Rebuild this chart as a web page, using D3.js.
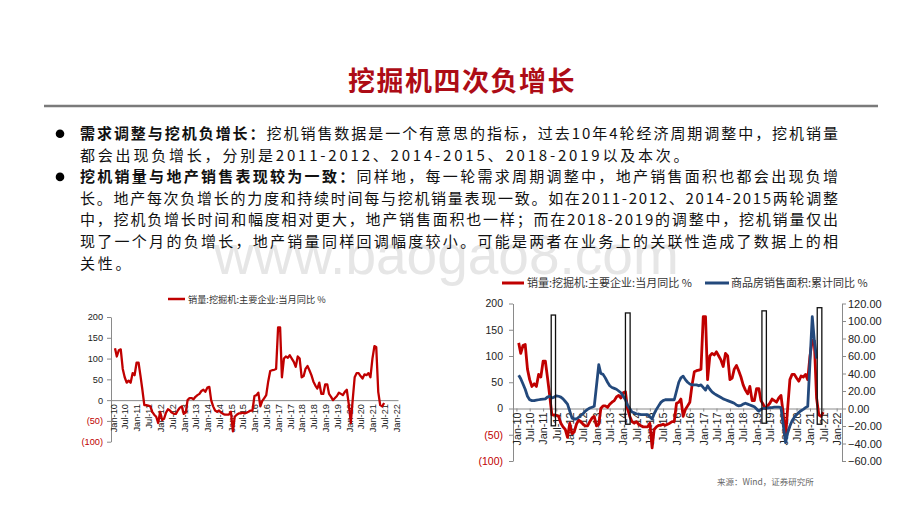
<!DOCTYPE html>
<html><head><meta charset="utf-8">
<script src="https://cdn.jsdelivr.net/npm/d3@7"></script>
<style>body{margin:0;background:#fff}svg{display:block}</style>
</head><body>
<svg id="c" width="920" height="518"></svg>
<script>
// ---------- content ----------
const title = "挖掘机四次负增长";
const watermark = "www.baogao8.com";
const bullets = [
  {lead: "需求调整与挖机负增长：", lines: [
    "挖机销售数据是一个有意思的指标，过去10年4轮经济周期调整中，挖机销量",
    "都会出现负增长，分别是2011-2012、2014-2015、2018-2019以及本次。"]},
  {lead: "挖机销量与地产销售表现较为一致：", lines: [
    "同样地，每一轮需求周期调整中，地产销售面积也都会出现负增",
    "长。地产每次负增长的力度和持续时间每与挖机销量表现一致。如在2011-2012、2014-2015两轮调整",
    "中，挖机负增长时间和幅度相对更大，地产销售面积也一样；而在2018-2019的调整中，挖机销量仅出",
    "现了一个月的负增长，地产销量同样回调幅度较小。可能是两者在业务上的关联性造成了数据上的相",
    "关性。"]}
];
const seriesRedName = "销量:挖掘机:主要企业:当月同比 %";
const seriesBlueName = "商品房销售面积:累计同比 %";
const sourceText = "来源：Wind，证券研究所";

// excavator sales YoY (%), monthly from Feb-2010
const excavatorStart = [2010, 2];
const excavatorYoY = [
  125,105,120,122,75,55,42,47,42,65,60,90,
  90,60,25,-12,-12,-13,-15,-28,-35,-40,-55,-28,
  -48,-45,-30,-22,-25,-30,-33,-33,-25,-18,-15,-33,
  -30,0,5,5,2,8,12,15,22,25,20,30,
  32,0,-15,-25,-28,-25,-30,-33,-35,-35,-35,-28,
  -75,-40,-35,-32,-32,-30,-32,-30,-28,-25,-25,10,
  12,18,-15,-2,5,12,45,70,72,73,75,175,
  175,55,100,105,102,108,100,92,80,105,100,55,
  58,75,82,72,60,45,35,28,42,15,15,38,
  38,15,8,0,5,10,18,15,12,20,25,-10,
  -55,0,55,65,65,58,52,62,60,65,55,100,
  130,128,20,-12,-15,-7
];
// commercial housing sales area, cumulative YoY (%), Feb..Dec of each year
const housingYears = [2010,2011,2012,2013,2014,2015,2016,2017,2018,2019,2020,2021];
const housingYoY = [
  [38,34,28,22,14,10,9,9,9.5,10,10.5],
  [11,13,14,12,13,14.5,14,13,11,8,5],
  [-11,-12,-12,-10,-8,-6,-3,-1,0.5,1.5,2.5],
  [50,40,39,35,30,26,24,23,22,20,18],
  [10,4,0,-4,-5,-6,-6.5,-7,-7,-7,-7],
  [-12,-6,-1,3,7,9,10,10,10,10,10],
  [30,35,37,33,30,28,27,27,27,26,27],
  [21,26,22,19,17,15.5,14,12.5,11,10,9],
  [7,6,4,3,3.5,5,6,5,4,3,2],
  [-3,-1,0,0.5,0.5,1,1,1.5,1.5,1.5,1],
  [-39,-28,-20,-14,-10,-7,-4.5,-2.5,-1,1,2.5],
  [105,78,57]
];
// highlighted periods (left-axis values for box extent)
const highlightBoxes = [
  {from: "2011-04-22", to: "2011-06-20", top: 178, bottom: -33},
  {from: "2014-02-01", to: "2014-04-06", top: 182, bottom: -30},
  {from: "2019-03-15", to: "2019-05-15", top: 186, bottom: -28},
  {from: "2021-04-10", to: "2021-06-12", top: 192, bottom: -30}
];
const leftTicks = [200,150,100,50,0,-50,-100];
const rightTicks = [120,100,80,60,40,20,0,-20,-40,-60];
const xTickYears = d3.range(2010, 2023);

// ---------- build data ----------
const redData = excavatorYoY.map((v,i) => ({date: new Date(excavatorStart[0], excavatorStart[1]-1+i, 1), v}));
const blueData = [];
housingYears.forEach((y,yi) => housingYoY[yi].forEach((v,k) => blueData.push({date: new Date(y, 1+k, 1), v})));
const xTicks = [];
xTickYears.forEach(y => { xTicks.push(new Date(y,0,1)); if (y < 2022) xTicks.push(new Date(y,6,1)); });

const RED = "#c00000", BLUE = "#23497c", AXIS = "#8a8a8a";
const CJK = "'Noto Sans CJK SC','Noto Sans',sans-serif";
const LAT = "'Liberation Sans',Arial,sans-serif";
const svg = d3.select("#c");

// ---------- header ----------
svg.append("text").attr("x", 462).attr("y", 91).attr("text-anchor","middle")
  .attr("font-family", CJK).attr("font-weight", 700).attr("font-size", 27)
  .attr("letter-spacing", 1.5).attr("fill", "#ad0c16").text(title);
svg.append("line").attr("x1",44).attr("x2",878).attr("y1",106).attr("y2",106)
  .attr("stroke","#7a7a7a").attr("stroke-width",2.6);

// watermark
svg.append("text").attr("x",214).attr("y",274).attr("font-family",LAT)
  .attr("font-size",55).attr("fill","#e6e6e6").text(watermark);

// ---------- bullet text ----------
const textX = 80, textRight = 838, lineH = 21.6, base0 = 139;
let row = 0;
bullets.forEach(b => {
  svg.append("circle").attr("cx",60).attr("cy", base0 + row*lineH - 5.3).attr("r",4.3).attr("fill","#000");
  b.lines.forEach((ln, i) => {
    const t = svg.append("text").attr("x", textX).attr("y", base0 + row*lineH)
      .attr("font-family", CJK).attr("font-size", 15).attr("fill", "#111");
    let n = ln.length;
    if (i === 0) { t.append("tspan").attr("font-weight",700).text(b.lead); n += b.lead.length; }
    t.append("tspan").text(ln);
    const natural = t.node().getComputedTextLength();
    const last = i === b.lines.length - 1;
    const ls = last ? 2.8 : (textRight - textX - natural) / (n - 1);
    t.style("letter-spacing", ls + "px");
    row++;
  });
});

function styleAxis(g) {
  g.select(".domain").attr("stroke", AXIS);
  g.selectAll(".tick line").attr("stroke", AXIS);
}
function rotateX(g, fs) {
  g.selectAll(".tick text").attr("transform","rotate(-90)").attr("x",-4).attr("y",0)
    .attr("dy","0.35em").attr("text-anchor","end").attr("font-family",LAT)
    .attr("font-size",fs).attr("fill","#222");
}
const leftFmt = v => v < 0 ? "(" + (-v) + ")" : String(v);

// ---------- left chart ----------
{
  const x = d3.scaleTime().domain([new Date(2009,11,1), new Date(2022,1,1)]).range([111, 398]);
  const y = d3.scaleLinear().domain([-100, 200]).range([441.7, 317]);
  const gy = svg.append("g").attr("transform","translate(111,0)")
    .call(d3.axisLeft(y).tickValues(leftTicks).tickFormat(leftFmt).tickSize(4).tickSizeOuter(0));
  styleAxis(gy);
  gy.selectAll(".tick text").attr("font-family",LAT).attr("font-size",9.2).attr("x",-8)
    .attr("fill", d => d < 0 ? RED : "#222");
  const gx = svg.append("g").attr("transform",`translate(0,${y(0)})`)
    .call(d3.axisBottom(x).tickValues(xTicks).tickFormat(d3.timeFormat("%b-%y")).tickSize(0).tickSizeOuter(0));
  styleAxis(gx); rotateX(gx, 9.2);
  svg.append("path").datum(redData).attr("fill","none").attr("stroke",RED).attr("stroke-width",2.3)
    .attr("stroke-linejoin","round")
    .attr("d", d3.line().x(d => x(d.date)).y(d => y(d.v)));
  // legend
  svg.append("line").attr("x1",168).attr("x2",185).attr("y1",299).attr("y2",299).attr("stroke",RED).attr("stroke-width",2.5);
  svg.append("text").attr("x",188).attr("y",302.5).attr("font-family",CJK).attr("font-size",9.2)
    .attr("fill","#333").text(seriesRedName);
}

// ---------- right chart ----------
{
  const x = d3.scaleTime().domain([new Date(2009,10,15), new Date(2022,2,15)]).range([513, 842]);
  const yL = d3.scaleLinear().domain([-100, 200]).range([461, 303.5]);
  const yR = d3.scaleLinear().domain([-60, 120]).range([461, 303.5]);
  const gl = svg.append("g").attr("transform","translate(513,0)")
    .call(d3.axisLeft(yL).tickValues(leftTicks).tickFormat(leftFmt).tickSize(4).tickSizeOuter(0));
  styleAxis(gl);
  gl.selectAll(".tick text").attr("font-family",LAT).attr("font-size",10.5).attr("x",-10)
    .attr("fill", d => d < 0 ? RED : "#222");
  const gr = svg.append("g").attr("transform","translate(842,0)")
    .call(d3.axisRight(yR).tickValues(rightTicks).tickFormat(d3.format(".2f")).tickSize(4).tickSizeOuter(0));
  styleAxis(gr);
  gr.selectAll(".tick text").attr("font-family",LAT).attr("font-size",11).attr("x",6).attr("fill","#222");
  const gx = svg.append("g").attr("transform",`translate(0,${yL(0)})`)
    .call(d3.axisBottom(x).tickValues(xTicks).tickFormat(d3.timeFormat("%b-%y")).tickSize(3).tickSizeOuter(0));
  styleAxis(gx); rotateX(gx, 10.8);
  svg.append("path").datum(redData).attr("fill","none").attr("stroke",RED).attr("stroke-width",2.8)
    .attr("stroke-linejoin","round")
    .attr("d", d3.line().x(d => x(d.date)).y(d => yL(d.v)));
  svg.append("path").datum(blueData).attr("fill","none").attr("stroke",BLUE).attr("stroke-width",2.8)
    .attr("stroke-linejoin","round")
    .attr("d", d3.line().x(d => x(d.date)).y(d => yR(d.v)));
  svg.selectAll("rect.hl").data(highlightBoxes).join("rect").attr("class","hl")
    .attr("x", d => x(new Date(d.from))).attr("width", d => x(new Date(d.to)) - x(new Date(d.from)))
    .attr("y", d => yL(d.top)).attr("height", d => yL(d.bottom) - yL(d.top))
    .attr("fill","none").attr("stroke","#111").attr("stroke-width",1.3);
  // legend
  svg.append("line").attr("x1",502).attr("x2",524).attr("y1",283).attr("y2",283).attr("stroke",RED).attr("stroke-width",3);
  svg.append("text").attr("x",527).attr("y",287).attr("font-family",CJK).attr("font-size",11)
    .attr("fill","#333").text(seriesRedName);
  svg.append("line").attr("x1",705).attr("x2",729).attr("y1",283).attr("y2",283).attr("stroke",BLUE).attr("stroke-width",3);
  svg.append("text").attr("x",731).attr("y",287).attr("font-family",CJK).attr("font-size",11)
    .attr("fill","#333").text(seriesBlueName);
  svg.append("text").attr("x",717).attr("y",485).attr("font-family",CJK).attr("font-size",8.5)
    .attr("fill","#666").text(sourceText);
}
</script>
</body></html>
